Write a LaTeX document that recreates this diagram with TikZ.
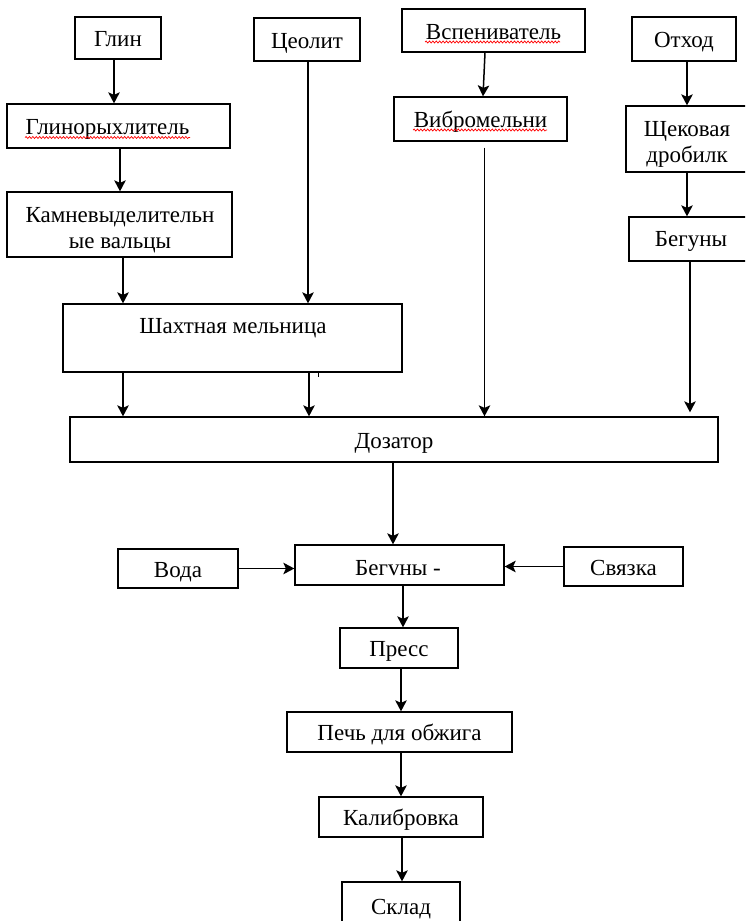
\documentclass[tikz,border=0pt]{standalone}
\usepackage{fontspec}
\setmainfont{Liberation Serif}
\usetikzlibrary{arrows.meta,decorations.pathmorphing}
\begin{document}
\begin{tikzpicture}[x=1pt,y=-1pt,
  bx/.style={draw, line width=1.3pt, inner sep=0pt, align=center,
    text height=17pt, text depth=0pt,
    font=\fontsize{23}{26}\selectfont},
  arr/.style={line width=1.5pt, -{Stealth[length=11pt,width=11.5pt,inset=2.5pt]}},
  spell/.style={red, line width=0.7pt, decorate,
    decoration={snake,amplitude=1pt,segment length=3.4pt}},
  tx/.style={font=\fontsize{23}{26}\selectfont, inner sep=0pt, align=center,
    text height=17pt, text depth=0pt},
  txtwo/.style={font=\fontsize{23}{25.5}\selectfont, inner sep=0pt, align=center}]
\useasboundingbox (0,0) rectangle (745,921);
\clip (0,0) rectangle (745,921);
\fill[white] (0,0) rectangle (745,921);

% boxes
\node[bx, minimum width=86pt, minimum height=42pt] (glin) at (118,38) {Глин};
\node[bx, minimum width=106pt, minimum height=43pt] (tseo) at (307,39.5) {Цеолит};
\node[bx, minimum width=223pt, minimum height=44pt] (glinr) at (118.5,126) {};
\node[tx] (glinrT) at (107.5,125.5) {Глинорыхлитель};
\node[bx, minimum width=225pt, minimum height=65pt] (kamn) at (119.5,224.5) {};
\node[txtwo] (kamnT) at (120,230) {Камневыделительн\\ые вальцы};
\node[bx, minimum width=339pt, minimum height=68pt] (shakh) at (232.5,338) {};
\node[tx] (shakhT) at (233,324.5) {Шахтная мельница};
\node[bx, minimum width=183pt, minimum height=43pt] (vspen) at (493.5,30.5) {Вспениватель};
\node[bx, minimum width=173pt, minimum height=44pt] (vibro) at (480.5,119) {Вибромельни};
\node[bx, minimum width=104pt, minimum height=44pt] (otkhod) at (684,39) {Отход};
\node[bx, minimum width=124pt, minimum height=66pt] (shchek) at (688,139) {};
\node[txtwo] (shchekT) at (687,144.5) {Щековая\\дробилк};
\node[bx, minimum width=121pt, minimum height=44pt] (beg1) at (689.5,239) {};
\node[tx] (beg1T) at (691,237.5) {Бегуны};
\node[bx, minimum width=648pt, minimum height=45pt] (doz) at (394,439.5) {Дозатор};
\node[bx, minimum width=120pt, minimum height=39pt] (voda) at (178,568.5) {Вода};
\node[bx, minimum width=209pt, minimum height=40pt] (beg2) at (399.5,565) {};
\node[tx] (beg2T) at (398,566.5) {Бегvны -};
\node[bx, minimum width=119pt, minimum height=39pt] (svyaz) at (623.5,566.5) {Связка};
\node[bx, minimum width=118pt, minimum height=40pt] (press) at (399,648) {Пресс};
\node[bx, minimum width=225pt, minimum height=40pt] (pech) at (399.5,732) {Печь для обжига};
\node[bx, minimum width=164pt, minimum height=40pt] (kalib) at (401,817) {Калибровка};
\node[bx, minimum width=118pt, minimum height=46pt] (sklad) at (401,905) {};
\node[tx] (skladT) at (401,905.5) {Склад};

% spell-check underlines
\draw[spell] (25,137.5) -- (190,137.5);
\draw[spell] (425,42) -- (560,42);
\draw[spell] (413,130) -- (547,130);

% helper coordinates
\coordinate (a1) at ([xshift=-4pt]glin.south);
\coordinate (a2) at ([xshift=1.5pt]glinr.south);
\coordinate (a3) at ([xshift=3.5pt]kamn.south);
\coordinate (a4) at ([xshift=1pt]tseo.south);
\coordinate (a5) at ([xshift=-109.5pt]shakh.south);
\coordinate (a6) at ([xshift=76.5pt]shakh.south);
\coordinate (a7) at ([xshift=4pt,yshift=-6pt]vibro.south);
\coordinate (a8) at ([xshift=0.5pt]beg1.south);
\coordinate (a9) at ([xshift=3pt]otkhod.south);
\coordinate (a10) at ([xshift=-1pt]shchek.south);
\coordinate (a11s) at ([xshift=-8.5pt]vspen.south);
\coordinate (a11e) at ([xshift=2.5pt]vibro.north);
\coordinate (a12) at ([xshift=-1pt]doz.south);
\coordinate (a15) at ([xshift=3.5pt]beg2.south);
\coordinate (a16) at ([xshift=2pt]press.south);
\coordinate (a17) at ([xshift=1.5pt]pech.south);
\coordinate (a18) at ([xshift=1pt]kalib.south);
\coordinate (tick) at ([xshift=85.5pt]shakh.south);

% connectors
\draw[arr] (a1) -- (a1 |- glinr.north);
\draw[arr] (a2) -- (a2 |- kamn.north);
\draw[arr] (a3) -- (a3 |- shakh.north);
\draw[arr] (a4) -- (a4 |- shakh.north);
\draw[arr] (a5) -- (a5 |- doz.north);
\draw[arr] (a6) -- (a6 |- doz.north);
\draw[arr] (a7) -- (a7 |- doz.north);
\draw[arr, shorten >=4pt] (a8) -- (a8 |- doz.north);
\draw[arr] (a9) -- (a9 |- shchek.north);
\draw[arr] (a10) -- (a10 |- beg1.north);
\draw[arr] (a11s) -- (a11e);
\draw[arr] (a12) -- (a12 |- beg2.north);
\draw[arr] (voda.east) -- (beg2.west |- voda.east);
\draw[arr] (svyaz.west) -- (beg2.east |- svyaz.west);
\draw[arr] (a15) -- (a15 |- press.north);
\draw[arr] (a16) -- (a16 |- pech.north);
\draw[arr] (a17) -- (a17 |- kalib.north);
\draw[arr] (a18) -- (a18 |- sklad.north);
\draw[line width=1pt] (tick) -- ++(0,4);
\end{tikzpicture}
\end{document}
